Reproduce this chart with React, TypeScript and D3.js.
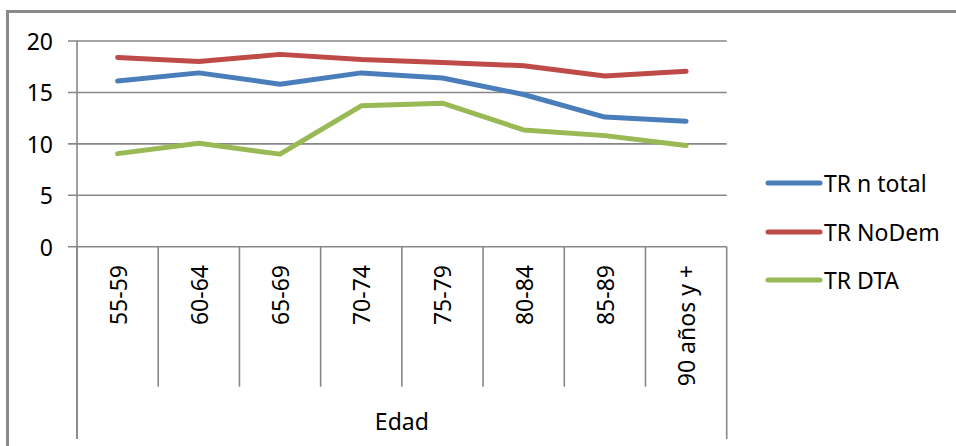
import React from "react";
import * as d3 from "d3";

const categories = ["55-59", "60-64", "65-69", "70-74", "75-79", "80-84", "85-89", "90 años y +"];
const trTotal = [16.1, 16.9, 15.8, 16.9, 16.4, 14.8, 12.6, 12.2];
const trNoDem = [18.4, 18.0, 18.7, 18.2, 17.9, 17.6, 16.6, 17.05];
const trDTA = [9.05, 10.05, 9.0, 13.7, 13.95, 11.35, 10.8, 9.85];
const yTicks = [0, 5, 10, 15, 20];
const seriesNames = ["TR n total", "TR NoDem", "TR DTA"];
const seriesColors = ["#4A7EBB", "#BE4B48", "#98B954"];
const axisTitle = "Edad";

const W = 956;
const H = 446;
const FONT = "'Noto Sans', 'Open Sans', sans-serif";
const GRID = "#878787";
const FS = 23;

export default function App() {
  const left = 77;
  const right = 726.7;
  const top = 41;
  const bottom = 246.7;
  const x = d3.scaleBand<string>().domain(categories).range([left, right]).padding(0);
  const y = d3.scaleLinear().domain([0, 20]).range([bottom, top]);
  const cx = (c: string) => (x(c) as number) + x.bandwidth() / 2;
  const line = d3
    .line<number>()
    .x((_, i) => cx(categories[i]))
    .y((v) => y(v));
  const series = [trTotal, trNoDem, trDTA];
  const boundaries = categories.map((c) => x(c) as number).concat([right]);
  const sepBottom = 386.7;
  const axisBottom = 439;
  const legendY = [183, 232, 280];

  return (
    <svg
      width={W}
      height={H}
      style={{ position: "fixed", left: 0, top: 0, background: "#fff" }}
      fontFamily={FONT}
    >
      <rect x={0} y={0} width={W} height={H} fill="#fff" />
      {/* outer frame */}
      <path d={`M7.5,${H + 5} L7.5,11.5 L${W + 5},11.5`} fill="none" stroke="#8a8a8a" strokeWidth={3} />
      {/* gridlines + y ticks */}
      {yTicks.map((t) => (
        <g key={t}>
          <line x1={68} x2={right} y1={y(t)} y2={y(t)} stroke={GRID} strokeWidth={1.6} />
          <text
            x={53}
            y={y(t)}
            textAnchor="end"
            dominantBaseline="central"
            fontSize={FS}
            fill="#000"
          >
            {t}
          </text>
        </g>
      ))}
      {/* y axis line */}
      <line x1={left} x2={left} y1={top} y2={axisBottom} stroke={GRID} strokeWidth={1.6} />
      {/* category separators */}
      {boundaries.map((b, i) => (
        <line
          key={i}
          x1={b}
          x2={b}
          y1={bottom}
          y2={i === 0 || i === boundaries.length - 1 ? axisBottom : sepBottom}
          stroke={GRID}
          strokeWidth={1.6}
        />
      ))}
      {/* category labels */}
      {categories.map((c) => (
        <text
          key={c}
          transform={`translate(${cx(c)},265) rotate(-90)`}
          textAnchor="end"
          dominantBaseline="central"
          fontSize={FS}
          fill="#000"
        >
          {c}
        </text>
      ))}
      <text x={(left + right) / 2} y={430} textAnchor="middle" fontSize={FS} fill="#000">
        {axisTitle}
      </text>
      {/* lines */}
      {series.map((s, i) => (
        <path
          key={i}
          d={line(s) as string}
          fill="none"
          stroke={seriesColors[i]}
          strokeWidth={5}
          strokeLinecap="round"
          strokeLinejoin="round"
        />
      ))}
      {/* legend */}
      {seriesNames.map((n, i) => (
        <g key={n}>
          <line
            x1={768}
            x2={820}
            y1={legendY[i]}
            y2={legendY[i]}
            stroke={seriesColors[i]}
            strokeWidth={5}
            strokeLinecap="round"
          />
          <text x={824} y={legendY[i]} dominantBaseline="central" fontSize={FS} fill="#000">
            {n}
          </text>
        </g>
      ))}
    </svg>
  );
}
